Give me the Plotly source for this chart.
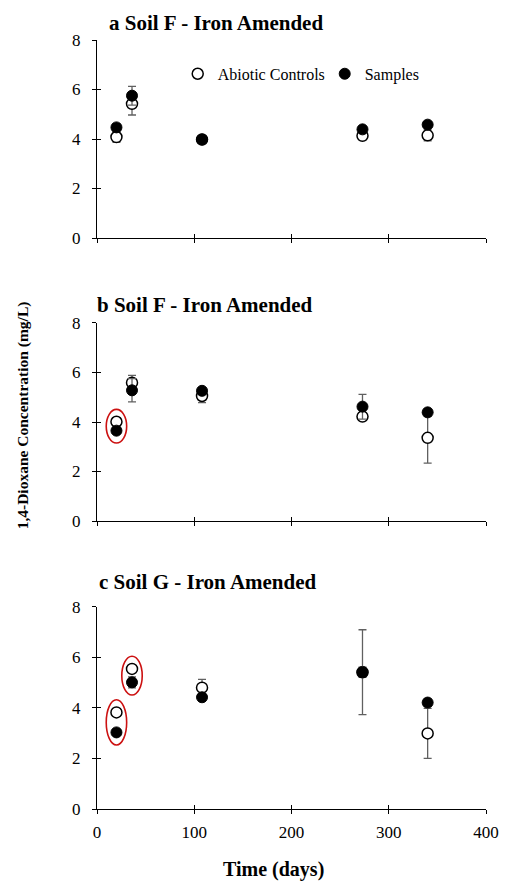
import plotly.graph_objects as go

# ---- data ----
days = [20, 36, 108, 273, 340]

a_ctrl = [4.08, 5.42, 3.98, 4.13, 4.15]
a_ctrl_err = [0.22, 0.45, 0.10, 0.10, 0.22]
a_samp = [4.47, 5.75, 3.98, 4.39, 4.58]
a_samp_err = [0.15, 0.38, 0.10, 0.12, 0.12]

b_ctrl = [4.01, 5.59, 5.05, 4.22, 3.36]
b_ctrl_err = [0.15, 0.29, 0.27, 0.15, 1.02]
b_samp = [3.65, 5.28, 5.26, 4.62, 4.39]
b_samp_err = [0.12, 0.47, 0.12, 0.50, 0.15]

c_ctrl = [3.82, 5.54, 4.80, 5.41, 2.99]
c_ctrl_err = [0.12, 0.12, 0.33, 0.20, 0.99]
c_samp = [3.03, 5.01, 4.42, 5.41, 4.21]
c_samp_err = [0.12, 0.22, 0.12, 1.68, 0.15]

panel_titles = ["a Soil F - Iron Amended", "b Soil F - Iron Amended", "c Soil G - Iron Amended"]
x_ticks = [0, 100, 200, 300, 400]
y_ticks = [0, 2, 4, 6, 8]
# highlighted (panel index, point index) pairs
highlights = [(1, 0), (2, 0), (2, 1)]

FONT = "Liberation Serif"
ERR_COLOR = "#606060"

panels = [(a_ctrl, a_ctrl_err, a_samp, a_samp_err),
          (b_ctrl, b_ctrl_err, b_samp, b_samp_err),
          (c_ctrl, c_ctrl_err, c_samp, c_samp_err)]
domains = [[0.7425, 1.0], [0.3745, 0.632], [0.0, 0.263]]

fig = go.Figure()
for i, (ctrl, ctrl_e, samp, samp_e) in enumerate(panels):
    xa = "x" if i == 0 else f"x{i+1}"
    ya = "y" if i == 0 else f"y{i+1}"
    fig.add_trace(go.Scatter(
        x=days, y=ctrl, mode="markers", name="Abiotic Controls",
        showlegend=(i == 0), xaxis=xa, yaxis=ya,
        marker=dict(symbol="circle", size=11, color="white",
                    line=dict(color="black", width=1.5)),
        error_y=dict(type="data", array=ctrl_e, color=ERR_COLOR,
                     thickness=1.3, width=4)))
    fig.add_trace(go.Scatter(
        x=days, y=samp, mode="markers", name="Samples",
        showlegend=(i == 0), xaxis=xa, yaxis=ya,
        marker=dict(symbol="circle", size=11, color="black",
                    line=dict(color="black", width=1)),
        error_y=dict(type="data", array=samp_e, color=ERR_COLOR,
                     thickness=1.3, width=4)))

axis_common = dict(showgrid=False, zeroline=False, showline=True,
                   linecolor="black", linewidth=1.3, ticks="outside",
                   ticklen=4, tickwidth=1.3, tickcolor="black",
                   tickfont=dict(family=FONT, size=17, color="black"))
layout = {}
for i in range(3):
    xk = "xaxis" if i == 0 else f"xaxis{i+1}"
    yk = "yaxis" if i == 0 else f"yaxis{i+1}"
    ya = "y" if i == 0 else f"y{i+1}"
    xa = "x" if i == 0 else f"x{i+1}"
    layout[xk] = dict(axis_common, range=[0, 400], tickvals=x_ticks,
                      showticklabels=(i == 2), domain=[0, 1], anchor=ya,
                      ticklabelstandoff=3)
    layout[yk] = dict(axis_common, range=[0, 8], tickvals=y_ticks,
                      domain=domains[i], anchor=xa, ticklabelstandoff=8)
    # inside half of the cross ticks
    layout[f"xaxis{i+4}"] = dict(range=[0, 400], tickvals=x_ticks, overlaying=xa,
                                 anchor=f"y{i+4}", ticks="inside", ticklen=4,
                                 tickwidth=1.3, tickcolor="black",
                                 showticklabels=False, showgrid=False,
                                 zeroline=False, showline=False)
    layout[f"yaxis{i+4}"] = dict(range=[0, 8], tickvals=y_ticks, overlaying=ya,
                                 anchor=f"x{i+4}", ticks="inside", ticklen=4,
                                 tickwidth=1.3, tickcolor="black",
                                 showticklabels=False, showgrid=False,
                                 zeroline=False, showline=False,
                                 domain=domains[i])
    fig.add_trace(go.Scatter(x=[None], y=[None], xaxis=f"x{i+4}",
                             yaxis=f"y{i+4}", showlegend=False,
                             hoverinfo="skip"))

fig.update_layout(**layout)

annotations = []
title_pos = [(0.026, 1.022), (-0.004, 0.655), (-0.001, 0.295)]
for t, (tx, ty) in zip(panel_titles, title_pos):
    annotations.append(dict(text=f"<b>{t}</b>", x=tx, y=ty, xref="paper",
                            yref="paper", xanchor="left", yanchor="middle",
                            showarrow=False,
                            font=dict(family=FONT, size=21, color="black")))
annotations.append(dict(text="<b>1,4-Dioxane Concentration (mg/L)</b>",
                        x=-0.19, y=0.512, xref="paper", yref="paper",
                        textangle=-90, showarrow=False, xanchor="center",
                        yanchor="middle",
                        font=dict(family=FONT, size=15.5, color="black")))
annotations.append(dict(text="<b>Time (days)</b>", x=0.455, y=-0.079,
                        xref="paper", yref="paper", showarrow=False,
                        xanchor="center", yanchor="middle",
                        font=dict(family=FONT, size=20, color="black")))

shapes = []
for (p, k) in highlights:
    ctrl, _, samp, _ = panels[p]
    xr = "x" if p == 0 else f"x{p+1}"
    yr = "y" if p == 0 else f"y{p+1}"
    lo = min(ctrl[k], samp[k]) - 0.5
    hi = max(ctrl[k], samp[k]) + 0.5
    shapes.append(dict(type="circle", xref=xr, yref=yr,
                       x0=days[k] - 10.5, x1=days[k] + 10.5, y0=lo, y1=hi,
                       line=dict(color="#cc1111", width=1.6)))

fig.update_layout(
    width=511, height=883,
    margin=dict(l=97, r=21, t=40, b=74),
    plot_bgcolor="white", paper_bgcolor="white",
    annotations=annotations, shapes=shapes,
    legend=dict(orientation="h", x=0.2075, y=0.956, xanchor="left",
                yanchor="middle", bgcolor="rgba(0,0,0,0)",
                font=dict(family=FONT, size=16, color="black"),
                itemwidth=30, tracegroupgap=0, entrywidth=102),
    showlegend=True,
)

fig.write_html("out.html")
